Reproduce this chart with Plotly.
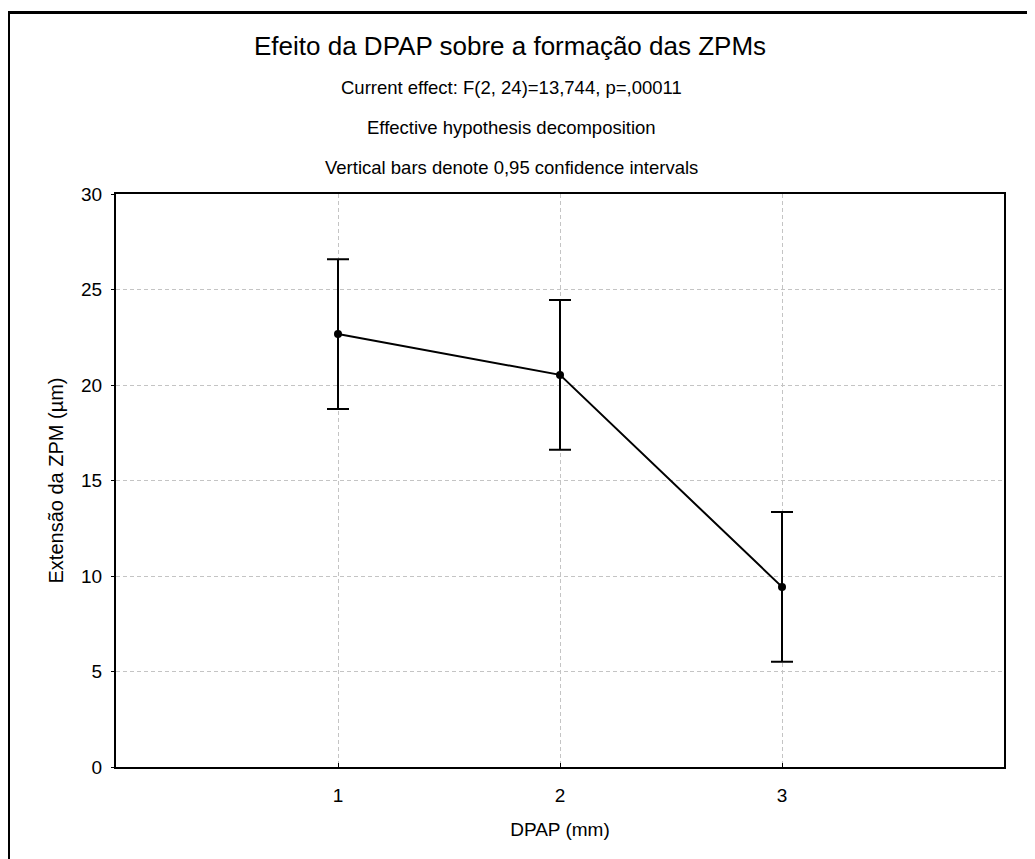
import plotly.graph_objects as go

# Data
dpap = [1, 2, 3]
means = [22.67, 20.53, 9.43]
ci_half = [3.92, 3.92, 3.92]
x_ticks = [1, 2, 3]
y_ticks = [0, 5, 10, 15, 20, 25, 30]

title = "Efeito da DPAP sobre a formação das ZPMs"
subtitles = [
    "Current effect: F(2, 24)=13,744, p=,00011",
    "Effective hypothesis decomposition",
    "Vertical bars denote 0,95 confidence intervals",
]

FONT = "Liberation Sans, Arial, sans-serif"

fig = go.Figure()
fig.add_trace(go.Scatter(
    x=dpap, y=means, mode="lines+markers",
    line=dict(color="black", width=2),
    marker=dict(color="black", size=8),
    error_y=dict(type="data", array=ci_half, visible=True,
                 color="black", thickness=2, width=11),
    showlegend=False,
))

OFF = 8  # page body margin
W, H = 1027, 851
# screen-space plot area: x 116..1004, y 194..767
L = 116 - OFF
T = 194 - OFF
R = W - (1004 - OFF)
B = H - (767 - OFF)
pw, ph = W - L - R, H - T - B

def sx(px):
    return (px - OFF - L) / pw

def sy(py):
    return (H - B - (py - OFF)) / ph

annotations = [dict(text=title, x=sx(510), y=sy(46), xref="paper", yref="paper",
                    showarrow=False, xanchor="center", yanchor="middle",
                    font=dict(family=FONT, size=26, color="black"))]
for i, s in enumerate(subtitles):
    annotations.append(dict(text=s, x=sx(511), y=sy(87 + 40 * i), xref="paper", yref="paper",
                            showarrow=False, xanchor="center", yanchor="middle",
                            font=dict(family=FONT, size=18.5, color="black")))

shapes = [
    dict(type="line", xref="paper", yref="paper", x0=sx(8.5), x1=sx(8.5),
         y0=sy(11), y1=sy(900), line=dict(color="black", width=3)),
    dict(type="line", xref="paper", yref="paper", x0=sx(7), x1=sx(1100),
         y0=sy(12.5), y1=sy(12.5), line=dict(color="black", width=3)),
]

grid = dict(showgrid=True, gridcolor="#c4c4c4", griddash="4px,3px", gridwidth=1)

fig.update_layout(
    width=W, height=H,
    margin=dict(l=L, r=R, t=T, b=B, pad=0),
    paper_bgcolor="white", plot_bgcolor="white",
    font=dict(family=FONT, size=19, color="black"),
    annotations=annotations,
    shapes=shapes,
    xaxis=dict(range=[0, 4], tickvals=x_ticks, ticktext=[str(v) for v in x_ticks],
               showline=True, linecolor="black", linewidth=2, mirror=True, **grid,
               ticks="inside", ticklen=4, tickcolor="black", zeroline=False,
               ticklabelstandoff=10,
               title=dict(text="DPAP (mm)", standoff=18, font=dict(size=19))),
    yaxis=dict(range=[0, 30], tickvals=y_ticks,
               showline=True, linecolor="black", linewidth=2, mirror=True, **grid,
               ticks="outside", ticklen=3, tickcolor="black", zeroline=False,
               ticklabelstandoff=5,
               title=dict(text="Extensão da ZPM (µm)", standoff=12, font=dict(size=20))),
)

fig.write_html("out.html")
